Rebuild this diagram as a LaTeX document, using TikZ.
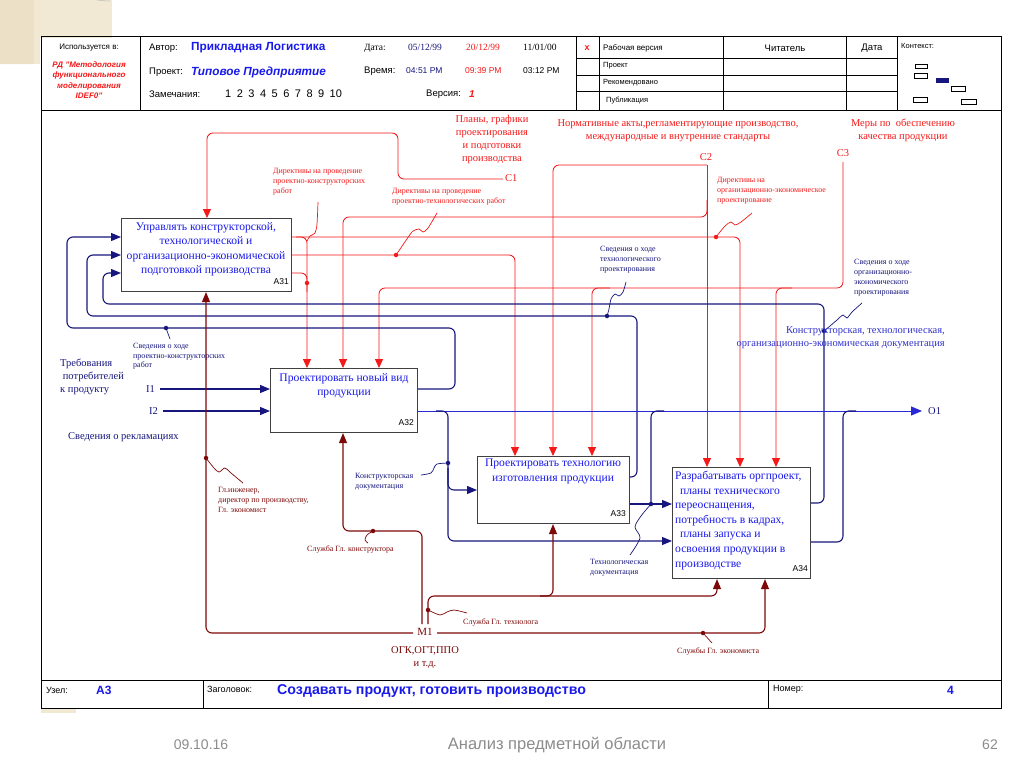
\documentclass[tikz,border=0pt]{standalone}
\usepackage{fontspec}
\setmainfont{Liberation Serif}
\setsansfont{Liberation Sans}
\usetikzlibrary{arrows.meta}
\definecolor{rc}{RGB}{245,25,25}
\definecolor{nv}{RGB}{22,22,125}
\definecolor{bl}{RGB}{40,40,215}
\definecolor{dr}{RGB}{125,8,8}
\definecolor{tb}{RGB}{25,25,235}
\definecolor{lb}{RGB}{50,50,205}
\definecolor{beigeA}{RGB}{236,225,198}
\definecolor{beigeB}{RGB}{242,233,212}
\definecolor{gr}{RGB}{140,140,140}
\newcommand\fsz[2]{\fontsize{#1}{#2}\selectfont}
\begin{document}
\begin{tikzpicture}[x=1pt,y=-1pt,
  box/.style={draw=black!75, line width=1.1pt, fill=white, anchor=north west, inner sep=0pt},
  btxt/.style={text=tb, font=\fsz{11.6}{14.6}, align=center, anchor=north, inner sep=0pt},
  num/.style={font=\sffamily\fsz{8.5}{10}, anchor=east, inner sep=0pt},
  rl/.style={draw=rc, line width=0.85pt, rounded corners=6pt},
  ra/.style={rl, -{Triangle[length=9pt,width=8pt]}},
  nl/.style={draw=nv, line width=1.1pt, rounded corners=6pt},
  na/.style={nl, -{Triangle[length=10pt,width=8pt]}},
  bll/.style={draw=bl, line width=0.9pt, rounded corners=6pt},
  ml/.style={draw=dr, line width=1.1pt, rounded corners=6pt},
  ma/.style={ml, -{Triangle[length=10pt,width=8pt]}},
  dt/.style={circle, fill=#1, inner sep=0pt, minimum size=4.5pt},
  sq/.style={draw=#1, line width=0.7pt},
  sl/.style={font=\fsz{8}{10}, align=left, anchor=north west, inner sep=0pt},
  ml10/.style={font=\fsz{10.5}{13}, inner sep=0pt},
  hs/.style={font=\sffamily\fsz{9.5}{11}, anchor=west, inner sep=0pt},
  hsm/.style={font=\sffamily\fsz{8}{10}, anchor=west, inner sep=0pt}
]
\useasboundingbox (0,0) rectangle (1024,768);
\fill[white] (0,0) rectangle (1024,768);
% slide decoration
\fill[beigeB] (0,0) rectangle (112,38);
\fill[beigeB] (0,0) rectangle (40,64);
\fill[beigeA] (0,0) -- (110,0) arc[start angle=90,end angle=180,radius=76] -- (34,64) -- (0,64) -- cycle;
\draw[black!25, line width=0.6pt] (110,1) arc[start angle=90,end angle=180,radius=76];
\fill[beigeB] (41,708) rectangle (76,713);

% frame
\draw[line width=1pt] (41,37) rectangle (1001,708);
\draw[line width=0.8pt] (41,110) -- (1001,110);
\draw[line width=0.8pt] (41,680) -- (1001,680);
\draw[line width=0.8pt] (140,37) -- (140,110);
\draw[line width=0.8pt] (576,37) -- (576,110);
\draw[line width=0.6pt] (599,37) -- (599,110);
\draw[line width=0.6pt] (723,37) -- (723,110);
\draw[line width=0.6pt] (846,37) -- (846,110);
\draw[line width=0.8pt] (897,37) -- (897,110);
\draw[line width=0.6pt] (576,58) -- (897,58);
\draw[line width=0.6pt] (576,75) -- (897,75);
\draw[line width=0.6pt] (576,91) -- (897,91);
\draw[line width=0.8pt] (203,680) -- (203,708);
\draw[line width=0.8pt] (768,680) -- (768,708);

% header texts
\node[font=\sffamily\fsz{8}{10}, inner sep=0pt] (hUsed) at (89,48) {Используется в:};
\node[font=\sffamily\bfseries\itshape\fsz{8}{10.5}, text=rc, align=center, inner sep=0pt] (hRD) at (89,80) {РД "Методология\\функционального\\моделирования\\IDEF0"};
\node[hs] (hAv) at (149,48) {Автор:};
\node[hs, font=\sffamily\bfseries\fsz{11.8}{13}, text=tb] (hAvV) at (191,48) {Прикладная Логистика};
\node[hs] (hPr) at (149,72) {Проект:};
\node[hs, font=\sffamily\bfseries\itshape\fsz{11.8}{13}, text=tb] (hPrV) at (191,72) {Типовое Предприятие};
\node[hs] (hZam) at (149,94) {Замечания:};
\node[hs, font=\sffamily\fsz{11}{12}] (hZamV) at (225,94) {1\hspace{5.5pt}2\hspace{5.5pt}3\hspace{5.5pt}4\hspace{5.5pt}5\hspace{5.5pt}6\hspace{5.5pt}7\hspace{5.5pt}8\hspace{5.5pt}9\hspace{5.5pt}10};
\node[hs, font=\fsz{9.5}{11}] (hDt) at (364,48) {Дата:};
\node[hs, font=\fsz{9.5}{11}, text=nv] (hD1) at (408,47) {05/12/99};
\node[hs, font=\fsz{9.5}{11}, text=rc] (hD2) at (466,47) {20/12/99};
\node[hs, font=\fsz{9.5}{11}] (hD3) at (523,47) {11/01/00};
\node[hs] (hTm) at (364,71) {Время:};
\node[hs, font=\sffamily\fsz{8.5}{10}, text=nv] (hT1) at (406,71) {04:51 PM};
\node[hs, font=\sffamily\fsz{8.5}{10}, text=rc] (hT2) at (465,71) {09:39 PM};
\node[hs, font=\sffamily\fsz{8.5}{10}] (hT3) at (523,71) {03:12 PM};
\node[hs] (hVer) at (426,94) {Версия:};
\node[hs, font=\sffamily\bfseries\itshape\fsz{10}{12}, text=rc] (hVerV) at (469,94) {1};
\node[font=\sffamily\bfseries\fsz{9}{10}, text=rc, inner sep=0pt] (hX) at (587,48) {x};
\node[hsm] (hRab) at (603,48) {Рабочая версия};
\node[font=\sffamily\fsz{9.5}{11}, inner sep=0pt] (hRead) at (785,48) {Читатель};
\node[font=\sffamily\fsz{9.5}{11}, inner sep=0pt] (hDate) at (872,48) {Дата};
\node[hsm, font=\sffamily\fsz{7.5}{9}] (hCtx) at (901,46) {Контекст:};
\node[hsm, font=\sffamily\fsz{7.5}{9}] (hProj) at (603,66) {Проект};
\node[hsm, font=\sffamily\fsz{7.5}{9}] (hRec) at (603,83) {Рекомендовано};
\node[hsm, font=\sffamily\fsz{7.5}{9}] (hPub) at (606,101) {Публикация};
% context mini diagram
\draw[line width=0.6pt] (915,64) rectangle (927,68);
\draw[line width=0.6pt] (914,73) rectangle (927,78);
\fill[nv] (936,78) rectangle (949,83);
\draw[line width=0.6pt] (951,86) rectangle (965,91);
\draw[line width=0.6pt] (913,97) rectangle (927,102);
\draw[line width=0.6pt] (961,99) rectangle (976,104);

% footer of frame
\node[hs, font=\sffamily\fsz{9}{11}] (fUz) at (46,690) {Узел:};
\node[hs, font=\sffamily\bfseries\fsz{12}{14}, text=tb] (fA3) at (96,690) {A3};
\node[hs, font=\sffamily\fsz{9}{11}] (fZag) at (207,689) {Заголовок:};
\node[hs, font=\sffamily\bfseries\fsz{14.2}{16}, text=tb] (fTitle) at (277,691) {Создавать продукт, готовить производство};
\node[hs, font=\sffamily\fsz{9}{11}] (fNom) at (773,689) {Номер:};
\node[hs, font=\sffamily\bfseries\fsz{12}{14}, text=tb] (fNum) at (947,690) {4};

% slide footer
\node[font=\sffamily\fsz{14}{16}, text=gr, inner sep=0pt] (sDate) at (201,745) {09.10.16};
\node[font=\sffamily\fsz{16.5}{18}, text=gr, inner sep=0pt] (sTitle) at (557,745) {Анализ предметной области};
\node[font=\sffamily\fsz{14}{16}, text=gr, inner sep=0pt] (sNum) at (990,745) {62};

% boxes
\node[box, minimum width=170pt, minimum height=73pt] (A31) at (121,218) {};
\node[box, minimum width=147pt, minimum height=64pt] (A32) at (270,368) {};
\node[box, minimum width=152pt, minimum height=67pt] (A33) at (477,456) {};
\node[box, minimum width=138pt, minimum height=111pt] (A34) at (672,467) {};
\node[btxt] (A31t) at (206,222) {Управлять конструкторской,\\технологической и\\организационно-экономической\\подготовкой производства};
\node[btxt] (A32t) at (344,373) {Проектировать новый вид\\продукции};
\node[btxt] (A33t) at (553,459) {Проектировать технологию\\изготовления продукции};
\node[btxt, align=left, anchor=north west] (A34t) at (675,471) {Разрабатывать оргпроект,\\\ \,планы технического\\переоснащения,\\потребность в кадрах,\\\ \,планы запуска и\\освоения продукции в\\производстве};
\node[num] (A31n) at (289,282) {A31};
\node[num] (A32n) at (414,423) {A32};
\node[num] (A33n) at (626,514) {A33};
\node[num] (A34n) at (808,569) {A34};

% ---------- red controls ----------
\draw[ra] (503,179) -- (398,179) -- (398,133) -- (207,133) -- (A31.north -| 207,0);
\draw[ra] (707,165) -- (A34.north -| 707,0);
\draw[ra] (707,165) -- (553,165) -- (A33.north -| 553,0);
\draw[ra] (707,200) -- (707,217) -- (343,217) -- (A32.north -| 343,0);
\draw[ra] (843,162) -- (843,288) -- (379,288) -- (A32.north -| 379,0);
\draw[ra] (610,288) -- (592,288) -- (A33.north -| 592,0);
\draw[ra] (792,288) -- (776,288) -- (A34.north -| 776,0);
\draw[ra] (A31.east |- 0,237) -- (740,237) -- (A34.north -| 740,0);
\draw[ra] (296,237) -- (307,237) -- (A32.north -| 307,0);
\draw[ra] (A31.east |- 0,255) -- (515,255) -- (A33.north -| 515,0);
\draw[rl] (A31.east |- 0,273) -- (307,273) -- (307,292);
\node[dt=rc] (d1) at (307,283) {};
\node[dt=rc] (d2) at (396,255) {};
\node[dt=rc] (d3) at (716,237) {};
\draw[sq=rc] plot[smooth] coordinates {(318,202) (317,224) (315,233) (310,236) (307,241)};
\draw[sq=rc] plot[smooth] coordinates {(437,213) (428,228) (423,232) (419,229) (413,231) (409,236) (396,255)};
\draw[sq=rc] plot[smooth] coordinates {(752,213) (741,222) (735,225) (731,222) (725,226) (716,237)};

\node[ml10, text=rc, align=center, anchor=north] (lC1) at (492,115) {Планы, графики\\проектирования\\и подготовки\\производства};
\node[ml10, text=rc, anchor=west] (C1) at (505,178) {C1};
\node[ml10, text=rc, align=center, anchor=north] (lC2) at (678,119) {Нормативные акты,регламентирующие производство,\\международные и внутренние стандарты};
\node[ml10, text=rc] (C2) at (706,157) {C2};
\node[ml10, text=rc, align=center, anchor=north] (lC3) at (903,119) {Меры по\ \ обеспечению\\качества продукции};
\node[ml10, text=rc] (C3) at (843,153) {C3};
\node[sl, text=rc] (lDir1) at (273,168) {Директивы на проведение\\проектно-конструкторских\\работ};
\node[sl, text=rc] (lDir2) at (392,188) {Директивы на проведение\\проектно-технологических работ};
\node[sl, text=rc] (lDir3) at (717,177) {Директивы на\\организационно-экономическое\\проектирование};

% ---------- navy / blue ----------
\draw[na] (A32.east |- 0,389) -- (455,389) -- (455,328) -- (67,328) -- (67,237) -- (A31.west |- 0,237);
\draw[na] (A33.east |- 0,477) -- (637,477) -- (637,316) -- (87,316) -- (87,255) -- (A31.west |- 0,255);
\draw[na] (A34.east |- 0,503) -- (824,503) -- (824,304) -- (103,304) -- (103,273) -- (A31.west |- 0,273);
\draw[na] (160,389) -- (A32.west |- 0,389);
\draw[na] (163,411) -- (A32.west |- 0,411);
\draw[bll, -{Triangle[length=11pt,width=9pt]}] (A32.east |- 0,411) -- (922,411);
\draw[na] (436,411) -- (448,411) -- (448,541) -- (A34.west |- 0,541);
\draw[na] (448,468) -- (448,490) -- (A33.west |- 0,490);
\draw[na] (A33.east |- 0,504) -- (A34.west |- 0,504);
\draw[nl] (651,504) -- (651,411) -- (664,411);
\draw[nl] (A34.east |- 0,542) -- (843,542) -- (843,411) -- (856,411);
\node[dt=nv] (d4) at (166,328) {};
\node[dt=nv] (d5) at (607,316) {};
\node[dt=nv] (d6) at (824,331) {};
\node[dt=nv] (d7) at (448,463) {};
\node[dt=nv] (d8) at (651,504) {};
\draw[sq=nv] (170,339) -- (166,328);
\draw[sq=nv] plot[smooth] coordinates {(626,282) (623,292) (619,296) (615,294) (611,299) (609,309) (607,316)};
\draw[sq=nv] plot[smooth] coordinates {(862,303) (852,312) (847,318) (843,315) (837,320) (830,326) (824,331)};
\draw[sq=nv] plot[smooth] coordinates {(421,475) (431,473) (434,468) (437,464) (448,463)};
\draw[sq=nv] plot[smooth] coordinates {(630,555) (640,538) (635,527) (641,516) (651,504)};

\node[sl, text=nv, font=\fsz{8}{9.5}] (lSv1) at (133,343) {Сведения о ходе\\проектно-конструкторских\\работ};
\node[sl, text=nv] (lSv2) at (600,246) {Сведения о ходе\\технологического\\проектирования};
\node[sl, text=nv] (lSv3) at (854,259) {Сведения о ходе\\организационно-\\экономического\\проектирования};
\node[ml10, text=lb, align=right, anchor=north east] (lDoc) at (945,326) {Конструкторская, технологическая,\\организационно-экономическая документация};
\node[ml10, text=nv, align=left, anchor=north west] (lReq) at (60,359) {Требования\\\ потребителей\\к продукту};
\node[ml10, text=nv, anchor=west] (lRecl) at (68,437) {Сведения о рекламациях};
\node[ml10, text=nv, anchor=west] (I1) at (146,389) {I1};
\node[ml10, text=nv, anchor=west] (I2) at (149,411) {I2};
\node[ml10, text=nv, anchor=west] (O1) at (928,411) {O1};
\node[sl, text=nv] (lKD) at (355,473) {Конструкторская\\документация};
\node[sl, text=nv] (lTD) at (590,559) {Технологическая\\документация};

% ---------- mechanisms ----------
\draw[ma] (413,633) -- (206,633) -- (A31.south -| 206,0);
\draw[ma] (422,624) -- (422,531) -- (343,531) -- (A32.south -| 343,0);
\draw[ma] (428,624) -- (428,596) -- (717,596) -- (A34.south -| 717,0);
\draw[ma] (540,596) -- (553,596) -- (A33.south -| 553,0);
\draw[ma] (437,633) -- (765,633) -- (A34.south -| 765,0);
\node[dt=dr] (d9) at (206,458) {};
\node[dt=dr] (d10) at (373,531) {};
\node[dt=dr] (d11) at (428,610) {};
\node[dt=dr] (d12) at (703,633) {};
\draw[sq=dr] plot[smooth] coordinates {(206,458) (214,468) (219,472) (225,468) (231,473) (243,483)};
\draw[sq=dr] plot[smooth] coordinates {(373,531) (367,535) (365,540) (368,543)};
\draw[sq=dr] plot[smooth] coordinates {(428,610) (440,615) (447,612) (454,610) (467,613)};
\draw[sq=dr] (703,633) -- (712,643);
\node[ml10, text=dr, font=\fsz{11}{13}] (M1) at (425,632) {M1};
\node[ml10, text=dr, align=center, anchor=north] (lM1) at (425,646) {ОГК,ОГТ,ППО\\и т.д.};
\node[sl, text=dr] (lGl) at (218,487) {Гл.инженер,\\директор по производству,\\Гл. экономист};
\node[sl, text=dr, anchor=west] (lSK) at (307,549) {Служба Гл. конструктора};
\node[sl, text=dr, anchor=west] (lST) at (463,622) {Служба Гл. технолога};
\node[sl, text=dr, anchor=west] (lSE) at (677,651) {Службы Гл. экономиста};
\end{tikzpicture}
\end{document}
